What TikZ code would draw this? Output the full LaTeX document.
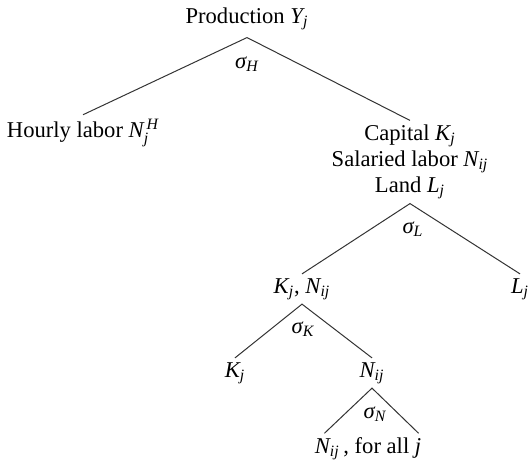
\documentclass[tikz,border=0pt]{standalone}
\usepackage{amsmath}
\usepackage{fontspec}
\setmainfont{Liberation Serif}
\usepackage{tikz}
\usetikzlibrary{positioning}

\newcommand{\iv}[1]{\textit{#1}}

\begin{document}
\begin{tikzpicture}[x=0.5pt, y=-0.5pt,
    every node/.style={font=\fontsize{11.3}{13}\selectfont, inner sep=2pt},
    branch/.style={draw=black!80, line width=0.5pt}]
  \useasboundingbox (0,0) rectangle (528,466);

  \node (prod) at (247,19) {Production $\iv{Y}_{\iv{j}}$};
  \node (sigH) at (247,64) {$\iv{σ}_{\iv{H}}$};
  \node (hourly) at (83,133) {Hourly labor $\iv{N}_{\iv{j}}^{\,\iv{H}}$};
  \node[align=center] (inputs) at (410,162) {Capital $\iv{K}_{\iv{j}}$\\
    Salaried labor $\iv{N}_{\iv{ij}}$\\ Land $\iv{L}_{\iv{j}}$};
  \node (sigL) at (413,229) {$\iv{σ}_{\iv{L}}$};
  \node (kn) at (302,289) {$\iv{K}_{\iv{j}}$, $\iv{N}_{\iv{ij}}$};
  \node (land) at (520,289) {$\iv{L}_{\iv{j}}$};
  \node (sigK) at (303,329) {$\iv{σ}_{\iv{K}}$};
  \node (kap) at (235,373) {$\iv{K}_{\iv{j}}$};
  \node (nij) at (372,373) {$\iv{N}_{\iv{ij}}$};
  \node (sigN) at (375,414) {$\iv{σ}_{\iv{N}}$};
  \node (all) at (368,449) {$\iv{N}_{\iv{ij}}$\,, for all $\iv{j}$};

  \draw[branch] (hourly.north) -- ([yshift=-1.5pt]prod.south) -- (inputs.north);
  \draw[branch] (kn.north) -- (inputs.south) -- (land.north);
  \draw[branch] (kap.north) -- (kn.south) -- (nij.north);
  \draw[branch] ([xshift=7pt]all.north west) -- (nij.south)
    -- ([xshift=-3.5pt]all.north east);
\end{tikzpicture}
\end{document}
